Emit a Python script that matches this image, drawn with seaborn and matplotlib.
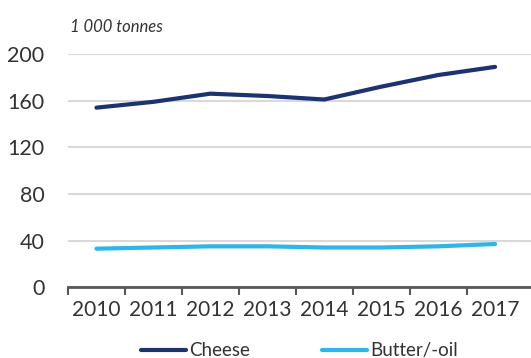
import matplotlib
matplotlib.use("Agg")
import matplotlib.pyplot as plt
import seaborn as sns
import pandas as pd
import numpy as np

years = ["2010", "2011", "2012", "2013", "2014", "2015", "2016", "2017"]
cheese = [154, 159, 166, 164, 161, 172, 182, 189]
butter = [33, 34, 35, 35, 34, 34, 35, 37]
yticks = [0, 40, 80, 120, 160, 200]

sns.set_theme(style="white")
plt.rcParams['font.family'] = ['Lato', 'DejaVu Sans']

df = pd.DataFrame({
    "x": list(range(len(years))) * 2,
    "value": cheese + butter,
    "series": ["Cheese"] * len(years) + ["Butter/-oil"] * len(years),
})

fig = plt.figure(figsize=(5.31, 3.58), dpi=100)
ax = fig.add_axes([0.128, 0.198, 0.872, 0.651])
sns.lineplot(data=df, x="x", y="value", hue="series",
             palette={"Cheese": "#1c3370", "Butter/-oil": "#2cb6ea"},
             linewidth=3, ax=ax, legend=True)

ax.set_ylim(0, 200)
ax.set_xlim(-0.5, 7.63)
ax.set_yticks(yticks)
ax.set_yticklabels([str(v) for v in yticks], fontsize=15.5, color="#333333")
ax.yaxis.grid(True, color="#d9d9d9", linewidth=1.5)
ax.set_axisbelow(True)
ax.set_xticks(np.arange(-0.5, 7, 1))
ax.set_xticklabels([])
ax.set_xticks(range(len(years)), minor=True)
ax.set_xticklabels(years, minor=True, fontsize=15, color="#333333")
ax.tick_params(axis="x", which="major", direction="out", length=6, width=1.5, color="#595959", bottom=True)
ax.tick_params(axis="x", which="minor", length=0, pad=9)
ax.tick_params(axis="y", length=0, pad=17)
for s in ["top", "right", "left"]:
    ax.spines[s].set_visible(False)
ax.spines["bottom"].set_color("#595959")
ax.spines["bottom"].set_linewidth(2)
ax.set_xlabel("")
ax.set_ylabel("")

fig.text(0.132, 0.912, "1 000 tonnes", fontsize=12, style="italic", color="#333333")

h, l = ax.get_legend_handles_labels()
ax.legend(h, l, loc="lower center", bbox_to_anchor=(0.5, -0.318), ncol=2, frameon=False,
          fontsize=13.5, handlelength=2.4, handletextpad=0.2, columnspacing=3.8,
          labelcolor="#333333", borderaxespad=0, borderpad=0.1)

fig.savefig("out.png", dpi=100)
